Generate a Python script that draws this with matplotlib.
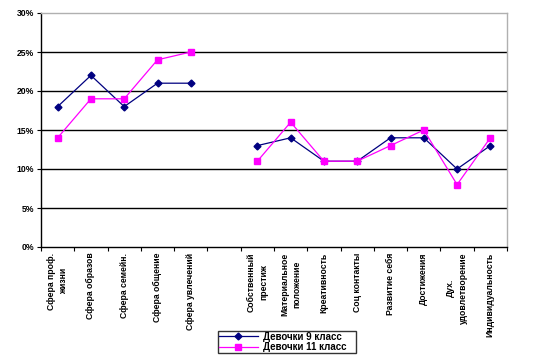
# Line chart: girls 9th vs 11th grade, life spheres and values

import numpy as np
from matplotlib import pyplot as plt
from matplotlib.ticker import FixedLocator, PercentFormatter

categories = ['Сфера проф.\nжизни', 'Сфера образов', 'Сфера семейн.', 'Сфера общение',
              'Сфера увлечений', '', 'Собственный\nпрестиж', 'Материальное\nположение',
              'Креативность', 'Соц контакты', 'Развитие себя', 'Достижения',
              'Дух.\nудовлетворение', 'Индивидуальность']
grade9 = [18, 22, 18, 21, 21, np.nan, 13, 14, 11, 11, 14, 14, 10, 13]
grade11 = [14, 19, 19, 24, 25, np.nan, 11, 16, 11, 11, 13, 15, 8, 14]
series_names = ['Девочки 9 класс', 'Девочки 11 класс']

plt.rcParams['font.family'] = ['Liberation Sans', 'DejaVu Sans']
plt.rcParams['font.weight'] = 'bold'

fig = plt.figure(figsize=(5.49, 3.63), dpi=100)
ax = fig.add_axes([41/549, 1 - 247/363, (507 - 41)/549, (247 - 13)/363])

x = np.arange(len(categories))
ax.plot(x, grade9, color='#000080', marker='D', markersize=3.5, lw=0.9,
        label=series_names[0])
ax.plot(x, grade11, color='#FF00FF', marker='s', markersize=4.5, lw=0.9,
        label=series_names[1])

ax.set_xlim(-0.5, len(categories) - 0.5)
ax.set_ylim(0, 30)
ax.set_yticks(np.arange(0, 31, 5))
ax.yaxis.set_major_formatter(PercentFormatter(decimals=0))
for v in range(5, 30, 5):
    ax.axhline(v, color='black', lw=1, zorder=0)

ax.set_xticks(x)
ax.set_xticklabels(categories, rotation=90, ha='center', va='top',
                   fontsize=6.2, fontweight='bold', linespacing=1.5)
ax.xaxis.set_minor_locator(FixedLocator(np.arange(-0.5, len(categories), 1)))
ax.tick_params(axis='x', which='major', length=0, pad=4)
ax.tick_params(axis='x', which='minor', length=3, width=0.8, direction='out')
ax.tick_params(axis='y', length=3, width=0.8, labelsize=6.2, pad=2)
for lab in ax.get_yticklabels():
    lab.set_fontweight('bold')

ax.spines['left'].set_color('black')
ax.spines['bottom'].set_color('black')
ax.spines['top'].set_color('#b0b0b0')
ax.spines['right'].set_color('#b0b0b0')
for s in ax.spines.values():
    s.set_linewidth(1)

leg = ax.legend(loc='lower left', bbox_to_anchor=(213/549, 1 - 358/363, (361 - 213)/549, (358 - 332)/363),
                bbox_transform=fig.transFigure, mode='expand', frameon=True,
                fancybox=False, borderpad=0.1, labelspacing=0.05, handlelength=4,
                handletextpad=0.5, prop={'weight': 'bold', 'size': 7})
leg.get_frame().set_edgecolor('black')
leg.get_frame().set_linewidth(1)

fig.savefig('out.png', dpi=100)
